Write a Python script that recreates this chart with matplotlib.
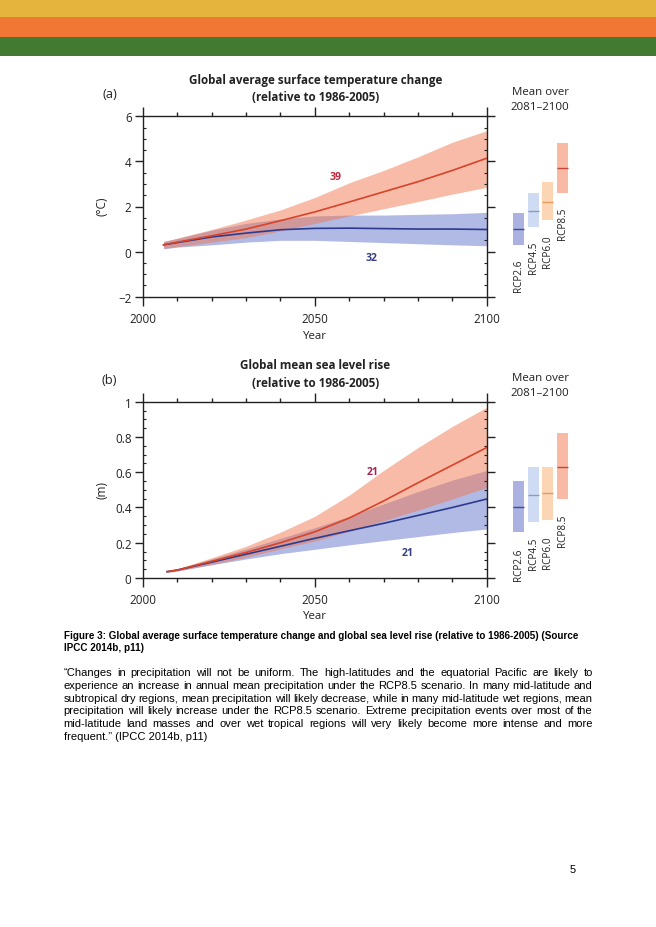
import matplotlib
matplotlib.use("Agg")
import matplotlib.pyplot as plt
from matplotlib.patches import Rectangle
from matplotlib.ticker import MultipleLocator
from matplotlib import font_manager

# ---------------- data ----------------
years_temp = [2006, 2010, 2020, 2030, 2040, 2050, 2060, 2070, 2080, 2090, 2100]
rcp85_temp = [0.30, 0.42, 0.70, 1.00, 1.37, 1.76, 2.20, 2.65, 3.10, 3.60, 4.14]
rcp85_temp_hi = [0.45, 0.60, 0.98, 1.40, 1.85, 2.40, 3.05, 3.60, 4.20, 4.85, 5.36]
rcp85_temp_lo = [0.15, 0.22, 0.42, 0.62, 0.92, 1.25, 1.58, 1.90, 2.22, 2.55, 2.85]
rcp26_temp = [0.30, 0.40, 0.65, 0.82, 0.97, 1.03, 1.04, 1.02, 1.00, 1.00, 0.98]
rcp26_temp_hi = [0.45, 0.58, 0.95, 1.25, 1.45, 1.58, 1.62, 1.62, 1.65, 1.68, 1.74]
rcp26_temp_lo = [0.12, 0.20, 0.30, 0.42, 0.50, 0.50, 0.45, 0.40, 0.35, 0.30, 0.26]

years_sl = [2007, 2010, 2020, 2030, 2040, 2050, 2060, 2070, 2080, 2090, 2100]
rcp85_sl = [0.036, 0.045, 0.095, 0.145, 0.200, 0.262, 0.340, 0.437, 0.540, 0.640, 0.740]
rcp85_sl_hi = [0.040, 0.052, 0.115, 0.180, 0.260, 0.350, 0.470, 0.610, 0.740, 0.860, 0.968]
rcp85_sl_lo = [0.032, 0.040, 0.078, 0.118, 0.165, 0.210, 0.265, 0.325, 0.385, 0.448, 0.514]
rcp26_sl = [0.036, 0.045, 0.090, 0.135, 0.180, 0.225, 0.268, 0.310, 0.355, 0.400, 0.448]
rcp26_sl_hi = [0.040, 0.052, 0.108, 0.165, 0.225, 0.285, 0.350, 0.420, 0.490, 0.555, 0.610]
rcp26_sl_lo = [0.032, 0.040, 0.075, 0.108, 0.138, 0.163, 0.188, 0.212, 0.235, 0.258, 0.278]

scenarios = ["RCP2.6", "RCP4.5", "RCP6.0", "RCP8.5"]
temp_2081_mean = [1.0, 1.8, 2.2, 3.7]
temp_2081_lo = [0.3, 1.1, 1.4, 2.6]
temp_2081_hi = [1.7, 2.6, 3.1, 4.8]
sl_2081_mean = [0.40, 0.47, 0.48, 0.63]
sl_2081_lo = [0.26, 0.32, 0.33, 0.45]
sl_2081_hi = [0.55, 0.63, 0.63, 0.82]

temp_models = ["39", "32"]
sl_models = ["21", "21"]

temp_yticks = [-2, 0, 2, 4, 6]
sl_yticks = [0, 0.2, 0.4, 0.6, 0.8, 1]
sl_yticklabels = ["0", "0.2", "0.4", "0.6", "0.8", "1"]
year_ticks = [2000, 2050, 2100]

caption_lines = [
    "Figure 3: Global average surface temperature change and global sea level rise (relative to 1986-2005) (Source",
    "IPCC 2014b, p11)",
]
para_lines = [
    "\u201cChanges in precipitation will not be uniform. The high-latitudes and the equatorial Pacific are likely to",
    "experience an increase in annual mean precipitation under the RCP8.5 scenario. In many mid-latitude and",
    "subtropical dry regions, mean precipitation will likely decrease, while in many mid-latitude wet regions, mean",
    "precipitation will likely increase under the RCP8.5 scenario. Extreme precipitation events over most of the",
    "mid-latitude land masses and over wet tropical regions will very likely become more intense and more",
    "frequent.\u201d (IPCC 2014b, p11)",
]

# ---------------- styling ----------------
def pick_font(cands):
    for c in cands:
        try:
            font_manager.findfont(font_manager.FontProperties(family=c), fallback_to_default=False)
            return c
        except Exception:
            pass
    return "DejaVu Sans"

F_TITLE = pick_font(["Liberation Sans Narrow", "Open Sans", "DejaVu Sans"])
F_CHART = pick_font(["Open Sans", "Lato", "DejaVu Sans"])
F_BODY = pick_font(["Liberation Sans", "Arial", "DejaVu Sans"])

W, H = 656, 928
def fx(px):
    return px / W
def fy(py):
    return 1 - py / H

red_line = "#d7432b"
blue_line = "#2d3b8e"
red_fill = "#f07850"
blue_fill = "#3c50be"
box_fill = ["#abb2e2", "#cfdaf3", "#fcd6b4", "#f8b9a5"]
box_mean = ["#3f4c9c", "#8d98c8", "#e39a5e", "#c8453a"]
spine_c = "#222222"

fig = plt.figure(figsize=(W / 100, H / 100), dpi=100)
fig.patch.set_facecolor("white")
renderer = fig.canvas.get_renderer()

# header stripes
for (y0, y1, c) in [(0, 17.5, "#e5b43d"), (17.5, 38, "#f07734"), (38, 57, "#437a31")]:
    fig.add_artist(Rectangle((0, fy(y1)), 1, (y1 - y0) / H, transform=fig.transFigure,
                             facecolor=c, edgecolor="none", zorder=0))

def style_axes(ax, yminor):
    for s in ax.spines.values():
        s.set_color(spine_c)
        s.set_linewidth(1.0)
    ax.set_xlim(2000, 2100)
    ax.set_xticks(year_ticks)
    ax.xaxis.set_minor_locator(MultipleLocator(10))
    ax.yaxis.set_minor_locator(MultipleLocator(yminor))
    ax.tick_params(axis="x", which="both", direction="out", top=True, bottom=True,
                   color=spine_c, width=1.0, labelsize=8.4, pad=4.6)
    ax.tick_params(axis="x", which="major", length=6.5)
    ax.tick_params(axis="x", which="minor", length=2.8)
    ax.tick_params(axis="y", which="major", direction="out", left=True, right=True,
                   length=6, width=1.0, color=spine_c, labelsize=8.4, pad=2.2)
    ax.tick_params(axis="y", which="minor", direction="in", left=True, right=True,
                   length=2.2, width=0.8, color=spine_c)
    for lab in ax.get_xticklabels() + ax.get_yticklabels():
        lab.set_family(F_CHART)
        lab.set_color("#222222")

def draw_boxes(ax_main, top_px, bot_px, means, los, his, label_gap=10):
    bx = fig.add_axes([fx(511.1), fy(bot_px), 58.9 / W, (bot_px - top_px) / H])
    bx.set_xlim(-0.5, 3.5)
    bx.set_ylim(ax_main.get_ylim())
    bx.axis("off")
    xs = list(range(len(scenarios)))
    bx.bar(xs, [h - l for h, l in zip(his, los)], bottom=los, width=0.75,
           color=box_fill, edgecolor="none")
    for i in xs:
        bx.plot([i - 0.375, i + 0.375], [means[i], means[i]], color=box_mean[i], lw=1.0,
                solid_capstyle="butt")
        bx.annotate(scenarios[i], (i, los[i]), xytext=(0, -label_gap), textcoords="offset points",
                    rotation=90, ha="center", va="top", fontsize=7.2, family=F_CHART,
                    color="#222222", annotation_clip=False)
    return bx

def fit_size(t, target_px):
    w = t.get_window_extent(renderer).width
    t.set_fontsize(t.get_fontsize() * target_px / w)
    return t.get_fontsize()

# ---------------- panel a ----------------
a_top, a_bot = 117.3, 297.7
ax1 = fig.add_axes([fx(143), fy(a_bot), (486.7 - 143) / W, (a_bot - a_top) / H])
ax1.fill_between(years_temp, rcp26_temp_lo, rcp26_temp_hi, color=blue_fill, alpha=0.4, lw=0)
ax1.fill_between(years_temp, rcp85_temp_lo, rcp85_temp_hi, color=red_fill, alpha=0.5, lw=0)
ax1.plot(years_temp, rcp26_temp, color=blue_line, lw=1.2)
ax1.plot(years_temp, rcp85_temp, color=red_line, lw=1.2)
ax1.set_ylim(-2, 6)
ax1.set_yticks(temp_yticks)
style_axes(ax1, 0.5)
ax1.text(2056.1, 3.34, temp_models[0], color="#c0283e", fontsize=7.6, fontweight="bold",
         family=F_CHART, ha="center", va="center")
ax1.text(2066.5, -0.28, temp_models[1], color="#353c80", fontsize=7.6, fontweight="bold",
         family=F_CHART, ha="center", va="center")
draw_boxes(ax1, a_top, a_bot, temp_2081_mean, temp_2081_lo, temp_2081_hi, label_gap=10)

# ---------------- panel b ----------------
b_top, b_bot = 402.7, 579.0
ax2 = fig.add_axes([fx(143), fy(b_bot), (486.7 - 143) / W, (b_bot - b_top) / H])
ax2.fill_between(years_sl, rcp26_sl_lo, rcp26_sl_hi, color=blue_fill, alpha=0.4, lw=0)
ax2.fill_between(years_sl, rcp85_sl_lo, rcp85_sl_hi, color=red_fill, alpha=0.5, lw=0)
ax2.plot(years_sl, rcp26_sl, color=blue_line, lw=1.2)
ax2.plot(years_sl, rcp85_sl, color=red_line, lw=1.2)
ax2.set_ylim(0, 1)
ax2.set_yticks(sl_yticks)
ax2.set_yticklabels(sl_yticklabels)
style_axes(ax2, 0.05)
ax2.text(2066.7, 0.605, sl_models[0], color="#a8204f", fontsize=7.6, fontweight="bold",
         family=F_CHART, ha="center", va="center")
ax2.text(2076.9, 0.142, sl_models[1], color="#353c80", fontsize=7.6, fontweight="bold",
         family=F_CHART, ha="center", va="center")
draw_boxes(ax2, b_top, b_bot, sl_2081_mean, sl_2081_lo, sl_2081_hi, label_gap=11)

# ---------------- chart texts ----------------
probe = fig.text(0, 0, "Global mean sea level rise", family=F_TITLE, fontweight="bold", fontsize=10)
title_fs = fit_size(probe, 152)
probe.remove()
probe = fig.text(0, 0, "Mean over", family=F_CHART, fontsize=8)
mean_fs = fit_size(probe, 57)
probe.remove()

for (top, title1, lab, ylab, ylab_y) in [
        (a_top, "Global average surface temperature change", "(a)", "(\u00b0C)", 206.7),
        (b_top, "Global mean sea level rise", "(b)", "(m)", 490.0)]:
    fig.text(fx(315.5), fy(top - 37), title1, family=F_TITLE, fontweight="bold",
             fontsize=title_fs, ha="center", va="center", color="#222222")
    fig.text(fx(315.5), fy(top - 19.4), "(relative to 1986-2005)", family=F_TITLE,
             fontweight="bold", fontsize=title_fs, ha="center", va="center", color="#222222")
    fig.text(fx(109.5), fy(top - 22.7), lab, family=F_CHART, fontsize=9.3,
             ha="center", va="center", color="#222222")
    fig.text(fx(540), fy(top - 24.4), "Mean over", family=F_CHART, fontsize=mean_fs,
             ha="center", va="center", color="#222222")
    fig.text(fx(540), fy(top - 9.4), "2081\u20132100", family=F_CHART, fontsize=mean_fs,
             ha="center", va="center", color="#222222")
    fig.text(fx(101.7), fy(ylab_y), ylab, family=F_CHART, fontsize=8.6, rotation=90,
             ha="center", va="center", color="#222222")

fig.text(fx(315), fy(336.7), "Year", family=F_CHART, fontsize=mean_fs, ha="center",
         va="center", color="#222222")
fig.text(fx(315), fy(616.7), "Year", family=F_CHART, fontsize=mean_fs, ha="center",
         va="center", color="#222222")

# ---------------- caption & paragraph ----------------
x_left, x_right = 63.5, 592.7
cap = fig.text(fx(x_left), fy(635.7), caption_lines[0], family=F_BODY, fontweight="bold",
               fontsize=8, ha="left", va="center", color="black")
cap_fs = fit_size(cap, 577 - x_left)
fig.text(fx(x_left), fy(648.3), caption_lines[1], family=F_BODY, fontweight="bold",
         fontsize=cap_fs, ha="left", va="center", color="black")

body_fs = 8.0
line_gap = 12.68
for i, line in enumerate(para_lines):
    y = fy(673.3 + line_gap * i)
    if i == len(para_lines) - 1:
        fig.text(fx(x_left), y, line, family=F_BODY, fontsize=body_fs, ha="left",
                 va="center", color="black")
        continue
    words = line.split(" ")
    texts = [fig.text(0, y, w, family=F_BODY, fontsize=body_fs, ha="left", va="center",
                      color="black") for w in words]
    widths = [t.get_window_extent(renderer).width for t in texts]
    gap = (x_right - x_left - sum(widths)) / (len(words) - 1)
    x = x_left
    for t, w in zip(texts, widths):
        t.set_x(fx(x))
        x += w + gap

fig.text(fx(576), fy(870), "5", family=F_BODY, fontsize=body_fs, ha="right", va="center",
         color="black")

fig.savefig("out.png", dpi=100, facecolor="white")
